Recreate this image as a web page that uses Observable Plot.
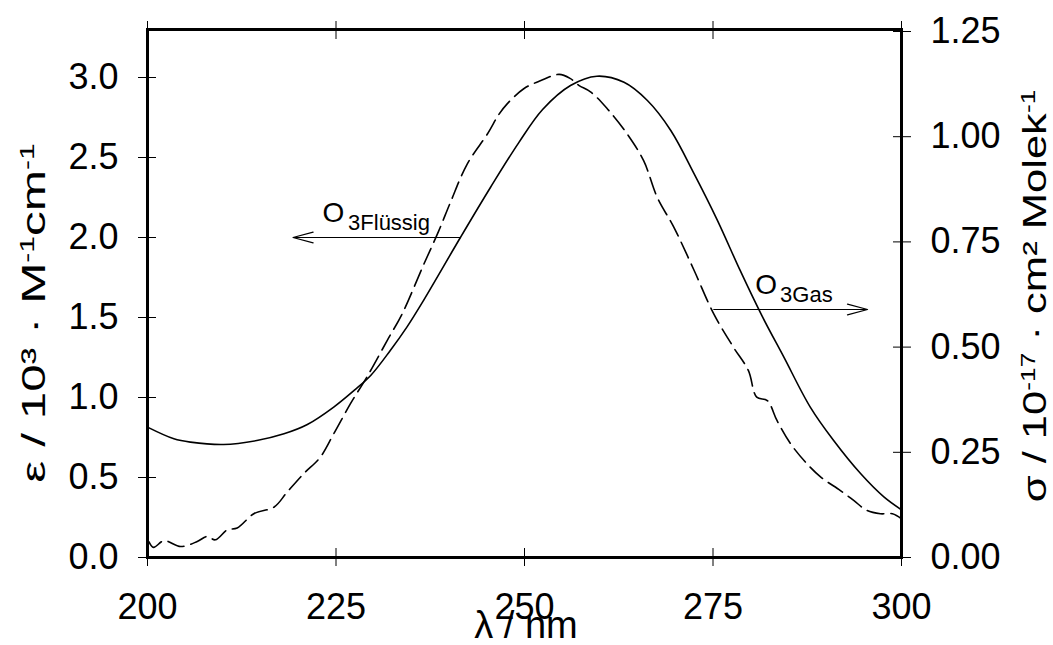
<!DOCTYPE html>
<html><head><meta charset="utf-8">
<script src="https://cdn.jsdelivr.net/npm/d3@7"></script>
<script src="https://cdn.jsdelivr.net/npm/@observablehq/plot@0.6"></script>
<style>
body{margin:0;background:#fff}
svg{font-family:"Liberation Sans",Arial,sans-serif}
</style>
</head><body><div id="chart"></div>
<script>
// ---- data ----
const liquidNm  = [200.0,203.5,205.7,210.1,214.5,218.1,221.2,224.7,227.4,229.6,232.2,234.4,236.6,241.5,245.5,249.2,252.4,256.1,259.6,263.2,266.3,269.4,272.5,275.6,278.6,281.5,284.4,287.9,291.0,294.6,297.7,300.0];
const liquidEps = [0.815,0.742,0.721,0.706,0.731,0.773,0.831,0.94,1.044,1.1375,1.294,1.44,1.606,2.0,2.314,2.59,2.80,2.95,3.008,2.97,2.856,2.669,2.398,2.106,1.794,1.51,1.252,0.94,0.731,0.523,0.377,0.298];
const gasNm    = [200.2,200.8,202.2,204.4,206.6,207.9,209.0,210.6,211.9,214.1,216.8,218.5,220.7,222.9,224.7,226.9,229.1,231.8,233.8,236.6,238.6,240.2,242.4,245.1,246.6,247.7,249.9,252.1,254.6,256.1,257.2,258.8,261.0,263.6,265.8,267.6,269.8,272.5,275.1,277.7,279.7,280.8,282.2,283.5,285.3,287.5,289.3,291.9,293.7,295.4,297.2,298.8,300.0];
const gasSigma = [0.037,0.024,0.040,0.026,0.038,0.050,0.042,0.066,0.070,0.104,0.120,0.155,0.199,0.238,0.294,0.365,0.429,0.516,0.580,0.695,0.775,0.845,0.935,1.007,1.053,1.078,1.114,1.133,1.148,1.138,1.122,1.106,1.066,1.007,0.943,0.856,0.785,0.682,0.579,0.500,0.444,0.381,0.373,0.325,0.270,0.222,0.191,0.159,0.135,0.112,0.104,0.104,0.092];
const xTicks     = [200,225,250,275,300];
const epsTicks   = [0,0.5,1.0,1.5,2.0,2.5,3.0];
const sigmaTicks = [0,0.25,0.5,0.75,1.0,1.25];
const sigmaToEps = 2.63; // right-axis scale factor (σ units -> ε units)
// annotations (data units)
const arrowFrom = [[241.5, 2.0], [275.1, 1.55]];
const arrowTo   = [[219.3, 2.0], [295.5, 1.55]];
const labelMain = ["O", "O"];
const labelMainPos = [[223.2, 2.094], [280.6, 1.65]];
const labelSub  = ["3Flüssig", "3Gas"];
const labelSubPos  = [[226.6, 2.044], [283.9, 1.594]];

// ---- build ----
const liquid = liquidNm.map((x, i) => ({x, y: liquidEps[i]}));
const gas = gasNm.map((x, i) => ({x, y: gasSigma[i] * sigmaToEps}));
const arrows = arrowFrom.map((f, i) => ({x1: f[0], y1: f[1], x2: arrowTo[i][0], y2: arrowTo[i][1]}));
const mains = labelMain.map((t, i) => ({t, x: labelMainPos[i][0], y: labelMainPos[i][1]}));
const subs = labelSub.map((t, i) => ({t, x: labelSubPos[i][0], y: labelSubPos[i][1]}));

const plot = Plot.plot({
  width: 1053, height: 645,
  marginLeft: 147, marginRight: 152, marginTop: 29, marginBottom: 88,
  style: {fontFamily: '"Liberation Sans", Arial, sans-serif', fontSize: "36px", color: "black", background: "white", overflow: "visible"},
  x: {domain: [200, 300]},
  y: {domain: [0, 3.3]},
  marks: [
    Plot.line(liquid, {x: "x", y: "y", stroke: "black", strokeWidth: 1.6, curve: "catmull-rom"}),
    Plot.line(gas, {x: "x", y: "y", stroke: "black", strokeWidth: 1.6, strokeDasharray: "17,7", curve: "catmull-rom"}),
    Plot.arrow(arrows, {x1: "x1", y1: "y1", x2: "x2", y2: "y2", stroke: "black", strokeWidth: 1.2, headAngle: 30, headLength: 26}),
    Plot.text(mains, {x: "x", y: "y", text: "t", textAnchor: "start", lineAnchor: "bottom", fontSize: 28, fill: "black"}),
    Plot.text(subs, {x: "x", y: "y", text: "t", textAnchor: "start", lineAnchor: "bottom", fontSize: 22, fill: "black"}),
    Plot.axisX(xTicks, {anchor: "bottom", tickSize: 18, dy: -9, tickPadding: 27, fontSize: 36, label: null}),
    Plot.axisX(xTicks, {anchor: "top", tickSize: 18, dy: 9, tickFormat: () => "", label: null}),
    Plot.axisY(epsTicks, {anchor: "left", tickSize: 18, dx: 9, tickPadding: 20, fontSize: 36, tickFormat: d => d.toFixed(1), label: null}),
    Plot.axisY(sigmaTicks.map(s => s * sigmaToEps), {anchor: "right", tickSize: 18, dx: -9, tickPadding: 20, fontSize: 36, tickFormat: d => (d / sigmaToEps).toFixed(2), label: null}),
    Plot.frame({stroke: "black", strokeWidth: 3})
  ]
});

// axis titles with superscripts
const svg = d3.select(plot);
function title(transform, parts, size) {
  const t = svg.append("text").attr("transform", transform).attr("text-anchor", "middle")
    .attr("font-size", size).attr("fill", "black");
  parts.forEach(([s, sup]) => {
    const ts = t.append("tspan").text(s);
    if (sup) ts.attr("baseline-shift", "super").attr("font-size", Math.round(size * 0.62));
  });
}
title("translate(45,313) rotate(-90) scale(1.5,1)", [["ε / 10³ · M"], ["-1", true], ["cm"], ["-1", true]], 33);
title("translate(1046,296) rotate(-90) scale(1.32,1)", [["σ / 10"], ["-17", true], [" · cm² Molek"], ["-1", true]], 33);
title("translate(526,638)", [["λ / nm"]], 38);

document.getElementById("chart").appendChild(plot);
</script>
</body></html>
